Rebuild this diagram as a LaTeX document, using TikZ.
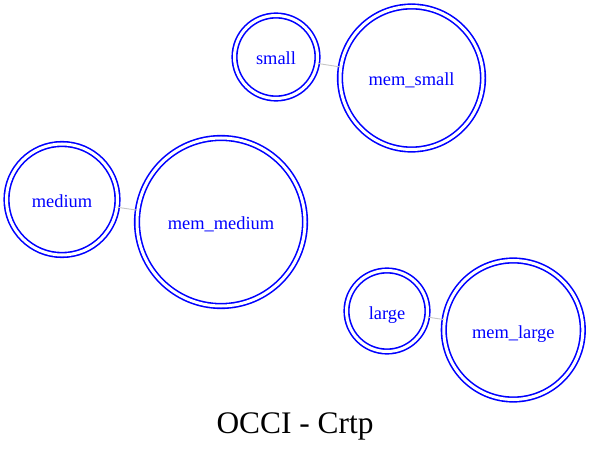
\documentclass[tikz,border=0pt]{standalone}
\usepackage{fontspec}
\setmainfont{Liberation Serif}
\tikzset{
	crtp/.style={circle, draw=blue, double=white, double distance=3bp, line width=1.6bp, text=blue, inner sep=0pt, text height=16bp, text depth=0pt, font=\fontsize{18.5}{20}\selectfont},
	link/.style={draw=gray!45, line width=0.9bp}
}
\begin{document}
\begin{tikzpicture}[x=1bp, y=-1bp]
	\useasboundingbox (0, 0) rectangle (591, 449);
	
	\node [crtp, minimum size=83bp] (small) at (276, 57) {small};
	\node [crtp, minimum size=143bp] (memsmall) at (411.5, 78) {mem\_small};	% small
	
	\node [crtp, minimum size=111bp] (medium) at (62, 199.5) {medium};
	\node [crtp, minimum size=168bp] (memmedium) at (221, 222) {mem\_medium};	% medium
	
	\node [crtp, minimum size=81bp] (large) at (387, 311) {large};
	\node [crtp, minimum size=139bp] (memlarge) at (513.3, 330) {mem\_large};	% large
	
	\draw [link] (small) -- (memsmall);
	\draw [link] (medium) -- (memmedium);
	\draw [link] (large) -- (memlarge);
	
	\node [anchor=base] (title) at (295, 433) {\fontsize{31.5}{34}\selectfont OCCI - Crtp};	% Titel
\end{tikzpicture}
\end{document}
